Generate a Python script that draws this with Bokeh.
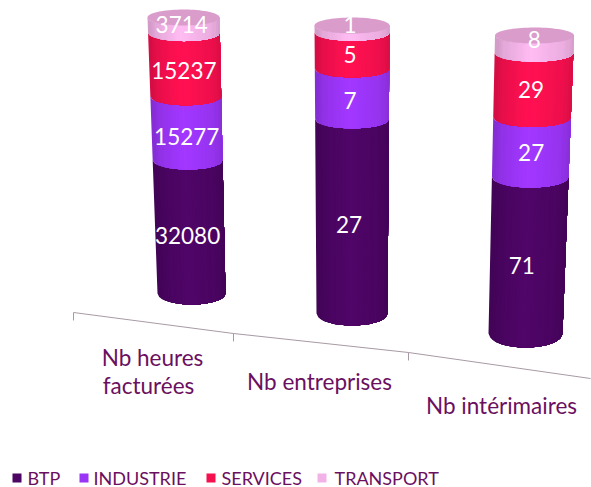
from bokeh.plotting import figure
from bokeh.embed import file_html
from bokeh.resources import INLINE
from bokeh.core.properties import value
import numpy as np

categories = ["Nb heures\nfacturées", "Nb entreprises", "Nb intérimaires"]
series = ["BTP", "INDUSTRIE", "SERVICES", "TRANSPORT"]
BTP = [32080, 27, 71]
INDUSTRIE = [15277, 7, 27]
SERVICES = [15237, 5, 29]
TRANSPORT = [3714, 1, 8]
colors = ["#4c0563", "#9a35f5", "#f5104e", "#f2b2e6"]
top_color = "#d99ccb"
text_color = "#6b0f5f"

# projected cylinder geometry (pixels of the page)
base_x = [191, 351.5, 525]
top_x = [183, 351.5, 534]
base_rx = [34, 35.5, 37]
top_rx = [36, 37.5, 39.5]
base_y = [293, 313, 333]
top_y = [17, 25, 35]
base_ry = [11, 12, 14]
top_ry = [8, 8, 8]
label_dy = [[-2, -1, -3, -9], [-2, -2, -5, -13], [-2, -5, -5, -13]]
label_dx = [[-2, 0, -1, -2], [-3, -2, -2, -2], [-6, 0, -2, 0]]
cat_pos = [[(152, 357), (148, 385)], [(319, 381)], [(501, 405)]]
axis_x = [73, 233, 408, 590]
axis_y = [312, 333, 352, 378]
legend_sq_x = [12, 79, 206, 317]
legend_tx_x = [27, 93, 221, 334]
legend_y = 477

p = figure(width=591, height=487, x_range=(0, 591), y_range=(487, 0),
           output_backend="svg", toolbar_location=None, min_border=0,
           outline_line_color=None, background_fill_color="white")
p.axis.visible = False
p.grid.visible = False


def shade(hex_color, t):
    c = np.array([int(hex_color[i:i + 2], 16) for i in (1, 3, 5)], float)
    f = float(np.interp(t, [-1, -0.75, -0.1, 0.75, 1], [0.86, 0.95, 1.06, 0.97, 0.88]))
    c = np.clip(c * f, 0, 255).astype(int)
    return "#%02x%02x%02x" % tuple(c)


table = [BTP, INDUSTRIE, SERVICES, TRANSPORT]
ts = np.linspace(-1, 1, 31)
xs_all, ys_all, cols = [], [], []
lx, ly, lt = [], [], []
for k in range(3):
    vals = [s[k] for s in table]
    total = sum(vals)
    cum = 0
    def geom(f):
        return (base_x[k] + (top_x[k] - base_x[k]) * f,
                base_rx[k] + (top_rx[k] - base_rx[k]) * f,
                base_y[k] + (top_y[k] - base_y[k]) * f,
                base_ry[k] + (top_ry[k] - base_ry[k]) * f)
    for j, v in enumerate(vals):
        f0, f1 = cum / total, (cum + v) / total
        cum += v
        cx0, rx0, y0, ry0 = geom(f0)
        cx1, rx1, y1, ry1 = geom(f1)
        # strips painted left to right, each running to the far edge so no seams show
        tt = np.linspace(-1, 1, 41)
        st = np.sqrt(1 - tt * tt)
        for i in range(len(ts) - 1):
            m = tt >= ts[i] - 1e-9
            xa = cx0 + tt[m] * rx0
            ya = y0 + ry0 * st[m]
            xb = cx1 + tt[m][::-1] * rx1
            yb = y1 + ry1 * st[m][::-1]
            xs_all.append(list(xa) + list(xb))
            ys_all.append(list(ya) + list(yb))
            cols.append(shade(colors[j], (ts[i] + ts[i + 1]) / 2))
        cxm, _, ym, rym = geom((f0 + f1) / 2)
        lx.append(cxm + label_dx[k][j])
        ly.append(ym + rym + label_dy[k][j])
        lt.append(str(v))
    cx1, rx1, y1, ry1 = geom(1)
    th = np.linspace(0, 2 * np.pi, 80)
    xs_all.append(list(cx1 + rx1 * np.cos(th)))
    ys_all.append(list(y1 + ry1 * np.sin(th)))
    cols.append(top_color)

p.patches(xs_all, ys_all, fill_color=cols, line_color=None)
p.text(lx, ly, text=lt, text_color="white", text_font=value("Lato"),
       text_font_size="22.5px", text_align="center", text_baseline="middle")

p.line(axis_x, axis_y, line_color="#a89aa4", line_width=1)
p.segment(axis_x[:3], axis_y[:3], axis_x[:3], [y + 8 for y in axis_y[:3]],
          line_color="#a89aa4", line_width=1)

for name_lines, pos in zip(categories, cat_pos):
    for line, (x, y) in zip(name_lines.split("\n"), pos):
        p.text([x], [y], text=[line], text_color=text_color, text_font=value("Lato"),
               text_font_size="22.5px", text_align="center", text_baseline="middle")

for name, c, sx, tx in zip(series, colors, legend_sq_x, legend_tx_x):
    p.quad(left=[sx], right=[sx + 9], top=[legend_y - 4], bottom=[legend_y + 5],
           fill_color=c, line_color=None)
    p.text([tx], [legend_y], text=[name], text_color=text_color, text_font=value("Lato"),
           text_font_size="18px", text_align="left", text_baseline="middle")

open("out.html", "w").write(file_html(p, INLINE))
